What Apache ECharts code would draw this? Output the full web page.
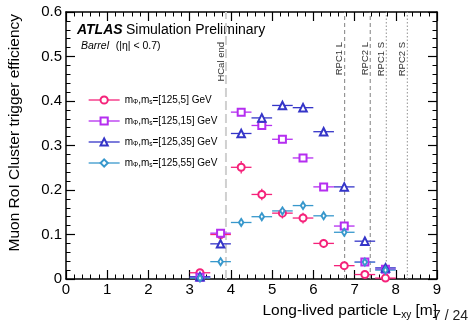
<!DOCTYPE html>
<html>
<head>
<meta charset="utf-8">
<script src="https://cdn.jsdelivr.net/npm/echarts@6/dist/echarts.min.js"></script>
<style>
  html, body { margin: 0; padding: 0; background: #fff; }
  #chart { width: 471px; height: 326px; }
</style>
</head>
<body>
<div id="chart"></div>
<script>
// ── Data ──
const binCenters = [3.25, 3.75, 4.25, 4.75, 5.25, 5.75, 6.25, 6.75, 7.25, 7.75];
const binHalfWidth = 0.25;

const effMs5  = [0.014, 0.100, 0.251, 0.190, 0.148, 0.137, 0.080, 0.030, 0.010, 0.002];
const effMs15 = [0.004, 0.103, 0.375, 0.345, 0.314, 0.272, 0.207, 0.119, 0.038, 0.022];
const effMs35 = [0.005, 0.079, 0.327, 0.362, 0.390, 0.385, 0.331, 0.207, 0.085, 0.025];
const effMs55 = [0.002, 0.039, 0.127, 0.140, 0.153, 0.165, 0.142, 0.105, 0.038, 0.020];

const errMs5  = [0.006, 0.012, 0.014, 0.013, 0.012, 0.012, 0.010, 0.007, 0.004, 0.003];
const errMs15 = [0.003, 0.006, 0.006, 0.006, 0.006, 0.006, 0.006, 0.005, 0.003, 0.003];
const errMs35 = [0.003, 0.006, 0.006, 0.006, 0.006, 0.006, 0.006, 0.005, 0.003, 0.003];
const errMs55 = [0.002, 0.005, 0.005, 0.005, 0.005, 0.005, 0.005, 0.004, 0.003, 0.003];

const seriesNames = ['ms5', 'ms15', 'ms35', 'ms55'];
const legendLabels = [
  'm{sub|Φ},m{sub|s}=[125,5] GeV',
  'm{sub|Φ},m{sub|s}=[125,15] GeV',
  'm{sub|Φ},m{sub|s}=[125,35] GeV',
  'm{sub|Φ},m{sub|s}=[125,55] GeV',
];

const detectorLines  = [3.88, 6.76, 7.38, 7.77, 8.28];
const detectorLabels = ['HCal end', 'RPC1 L', 'RPC2 L', 'RPC1 S', 'RPC2 S'];

const xTicks = [0, 1, 2, 3, 4, 5, 6, 7, 8, 9];
const yTicks = [0, 0.1, 0.2, 0.3, 0.4, 0.5, 0.6];

// ── Styles ──
const FONT = '"Liberation Sans", Arial, sans-serif';
const COLORS = ['#f5227a', '#b52ef0', '#3535c8', '#3898cc'];
const SYMBOLS = ['emptyCircle', 'emptyRect', 'emptyTriangle', 'emptyDiamond'];
const SYMBOL_SIZES = [7, 7, 7.5, [4.5, 7]];
const lineStyles = [
  { color: '#d0d0d0', width: 2, type: [9, 4] },
  { color: '#808080', width: 1, type: [4, 3] },
  { color: '#808080', width: 1, type: [4, 3] },
  { color: '#909090', width: 1, type: [1.5, 2] },
  { color: '#909090', width: 1, type: [1.5, 2] },
];

const effs = [effMs5, effMs15, effMs35, effMs55];
const errs = [errMs5, errMs15, errMs35, errMs55];

function errorBarSeries(i) {
  const color = COLORS[i];
  return {
    type: 'custom',
    name: 'err_' + seriesNames[i],
    z: 3,
    silent: true,
    data: binCenters.map((x, k) => [x, effs[i][k], errs[i][k]]),
    renderItem(params, api) {
      const x = api.value(0), y = api.value(1), e = api.value(2);
      const l = api.coord([x - binHalfWidth, y]);
      const r = api.coord([x + binHalfWidth, y]);
      const lo = api.coord([x, y - e]);
      const hi = api.coord([x, y + e]);
      const st = { stroke: color, lineWidth: 1.3 };
      return {
        type: 'group',
        children: [
          { type: 'line', shape: { x1: l[0], y1: l[1], x2: r[0], y2: r[1] }, style: st },
          { type: 'line', shape: { x1: lo[0], y1: lo[1], x2: hi[0], y2: hi[1] }, style: st },
        ],
      };
    },
  };
}

function markerSeries(i) {
  return {
    type: 'line',
    name: seriesNames[i],
    z: 5,
    data: binCenters.map((x, k) => [x, effs[i][k]]),
    symbol: SYMBOLS[i],
    symbolSize: SYMBOL_SIZES[i],
    showSymbol: true,
    showAllSymbol: true,
    clip: false,
    itemStyle: { color: COLORS[i], borderColor: COLORS[i], borderWidth: 1.3 },
    lineStyle: { color: COLORS[i], width: 1.3, opacity: 0 },
    emphasis: { disabled: true },
  };
}

const detectorSeries = {
  type: 'custom',
  name: 'detector',
  z: 2,
  silent: true,
  data: detectorLines.map((x, k) => [x, k]),
  renderItem(params, api) {
    const x = api.value(0), k = api.value(1);
    const bottom = api.coord([x, 0]);
    const top = api.coord([x, 0.6]);
    return {
      type: 'group',
      children: [
        { type: 'line', shape: { x1: bottom[0], y1: bottom[1], x2: top[0], y2: top[1] }, style: { stroke: lineStyles[k].color, lineWidth: lineStyles[k].width, lineDash: lineStyles[k].type } },
        { type: 'text', x: top[0] - 5, y: top[1] + 30, rotation: Math.PI / 2,
          style: { text: detectorLabels[k], fill: '#333', font: '9.5px ' + FONT, align: 'right', verticalAlign: 'middle' } },
      ],
    };
  },
};

const axisCommon = {
  min: 0,
  axisLine: { onZero: false, lineStyle: { color: '#000', width: 1.5 } },
  axisTick: { inside: true, length: 9, lineStyle: { color: '#000', width: 1.2 } },
  minorTick: { show: true, splitNumber: 5, length: 4.5, lineStyle: { color: '#000', width: 1 } },
  splitLine: { show: false },
};

const chart = echarts.init(document.getElementById('chart'), null, { renderer: 'canvas' });
chart.setOption({
  animation: false,
  backgroundColor: '#fff',
  grid: { left: 66, right: 34, top: 12, bottom: 47 },
  xAxis: [
    { ...axisCommon, type: 'value', max: xTicks[xTicks.length - 1], interval: 1, position: 'bottom',
      axisLabel: { color: '#000', fontFamily: FONT, fontSize: 15, margin: 3 } },
    { ...axisCommon, type: 'value', max: xTicks[xTicks.length - 1], interval: 1, position: 'top',
      axisLabel: { show: false } },
  ],
  yAxis: [
    { ...axisCommon, type: 'value', max: yTicks[yTicks.length - 1], interval: 0.1, position: 'left',
      axisLabel: { color: '#000', fontFamily: FONT, fontSize: 15, margin: 4 } },
    { ...axisCommon, type: 'value', max: yTicks[yTicks.length - 1], interval: 0.1, position: 'right',
      axisLabel: { show: false } },
  ],
  legend: {
    orient: 'vertical',
    left: 83,
    top: 90,
    itemWidth: 31,
    itemHeight: 9,
    itemGap: 10,
    selectedMode: false,
    data: seriesNames.map((n, i) => ({ name: n, lineStyle: { opacity: 1, width: 1.3, color: COLORS[i] } })),
    formatter: (name) => legendLabels[seriesNames.indexOf(name)],
    textStyle: {
      fontFamily: FONT, fontSize: 10, color: '#000',
      rich: { sub: { fontSize: 6.5, fontFamily: FONT, color: '#000', padding: [5, 0, 0, 0] } },
    },
  },
  graphic: [
    { type: 'text', left: 77, top: 23, style: {
      text: '{b|ATLAS} {n|Simulation Preliminary}',
      rich: {
        b: { font: 'italic bold 14px ' + FONT, fill: '#000' },
        n: { font: '14px ' + FONT, fill: '#000' },
      } } },
    { type: 'text', left: 81, top: 40, style: {
      text: '{i|Barrel}  {n|(|η| < 0.7)}',
      rich: {
        i: { font: 'italic 10.5px ' + FONT, fill: '#000' },
        n: { font: '10.5px ' + FONT, fill: '#000' },
      } } },
    { type: 'text', x: 15, y: 14, rotation: Math.PI / 2, style: {
      text: 'Muon RoI Cluster trigger efficiency', font: '15.5px ' + FONT, fill: '#000',
      align: 'right', verticalAlign: 'middle' } },
    { type: 'text', right: 34, top: 303, style: {
      text: 'Long-lived particle L{sub|xy} [m]', font: '15.5px ' + FONT, fill: '#000',
      rich: { sub: { font: '10px ' + FONT, fill: '#000', padding: [9, 0, 0, 0] } } } },
    { type: 'text', right: 3, top: 309, style: {
      text: '7 / 24', font: '14px ' + FONT, fill: '#222' } },
  ],
  series: [
    detectorSeries,
    ...[0, 1, 2, 3].map(errorBarSeries),
    ...[0, 1, 2, 3].map(markerSeries),
  ],
});
</script>
</body>
</html>
